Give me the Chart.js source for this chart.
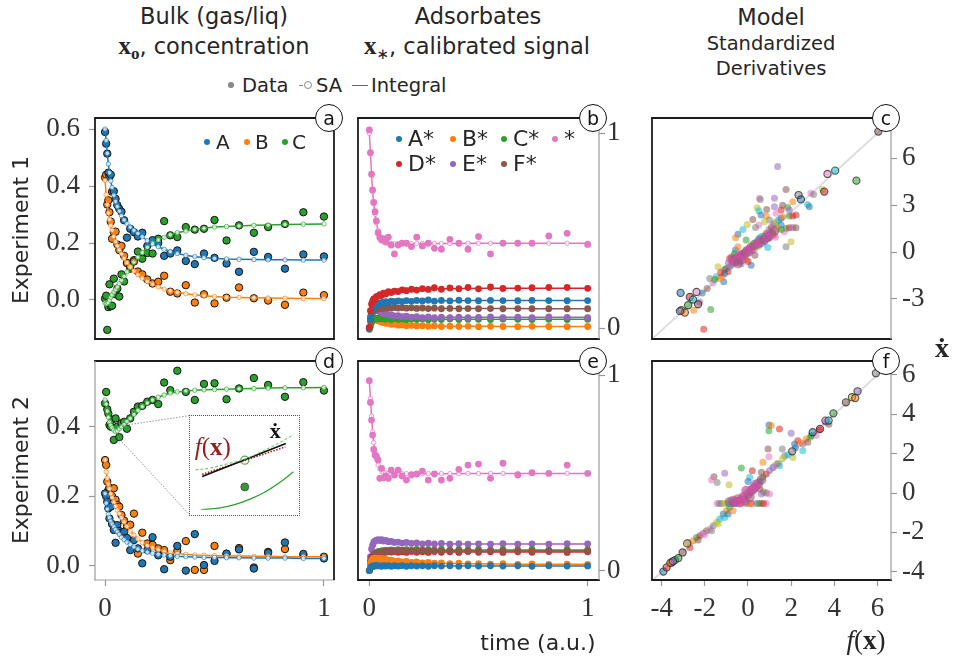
<!DOCTYPE html>
<html>
<head>
<meta charset="utf-8">
<script src="https://cdn.jsdelivr.net/npm/chart.js@4/dist/chart.umd.min.js"></script>
<style>
html, body { margin: 0; padding: 0; background: #fff; }
#fig { position: relative; width: 953px; height: 663px; overflow: hidden; font-family: 'DejaVu Sans', sans-serif; color: #262626; }
.pane { position: absolute; }
.txt { position: absolute; white-space: nowrap; line-height: 1; }
.mathx { font-family: 'Liberation Serif', serif; font-weight: bold; }
.sub { position: relative; font-size: 17px; top: 5px; }
.tag { position: absolute; width: 28px; height: 28px; margin: -14px 0 0 -14px; border: 1.3px solid #111; border-radius: 50%; background: #fff; box-sizing: border-box; font: 19px 'DejaVu Sans', sans-serif; color: #111; display: flex; align-items: center; justify-content: center; line-height: 1; }
.dot { position: absolute; border-radius: 50%; }
</style>
</head>
<body>
<div id="fig"></div>
<script>
// ---- sampling times shared by both experiments (a.u.) ----
const T = [0, 0.005, 0.01, 0.015, 0.02, 0.026, 0.032, 0.04, 0.048, 0.056, 0.065, 0.075, 0.087, 0.1, 0.115, 0.132, 0.15, 0.17, 0.193, 0.217, 0.243, 0.27, 0.298, 0.33, 0.369, 0.41, 0.452, 0.5, 0.555, 0.612, 0.68, 0.745, 0.822, 0.906, 1.0];

// ---- Experiment 1, bulk concentrations ----
const bulkA1 = [0.590, 0.549, 0.514, 0.447, 0.433, 0.440, 0.380, 0.382, 0.355, 0.333, 0.320, 0.310, 0.280, 0.219, 0.250, 0.238, 0.223, 0.236, 0.190, 0.210, 0.200, 0.155, 0.163, 0.174, 0.137, 0.126, 0.163, 0.148, 0.128, 0.099, 0.169, 0.151, 0.110, 0.160, 0.153];
const bulkB1 = [0.430, 0.440, 0.335, 0.350, 0.308, 0.275, 0.215, 0.238, 0.240, 0.195, 0.175, 0.190, 0.155, 0.130, 0.118, 0.135, 0.100, 0.090, 0.072, 0.058, 0.064, 0.085, 0.029, 0.023, 0.052, -0.009, 0.020, -0.012, 0.008, 0.044, 0.006, -0.002, -0.017, 0.026, 0.017];
const bulkC1 = [0.005, 0.015, -0.105, -0.025, 0.055, -0.022, -0.020, 0.075, 0.020, 0.040, 0.012, 0.090, 0.065, 0.130, 0.110, 0.140, 0.170, 0.145, 0.165, 0.163, 0.215, 0.277, 0.227, 0.221, 0.256, 0.247, 0.250, 0.281, 0.209, 0.262, 0.236, 0.256, 0.267, 0.308, 0.293];
const fitA1 = [0.600, 0.560, 0.515, 0.478, 0.447, 0.418, 0.395, 0.368, 0.346, 0.328, 0.312, 0.296, 0.281, 0.268, 0.256, 0.245, 0.234, 0.222, 0.208, 0.197, 0.187, 0.178, 0.170, 0.163, 0.157, 0.152, 0.149, 0.146, 0.144, 0.143, 0.142, 0.141, 0.141, 0.140, 0.140];
const fitB1 = [0.420, 0.370, 0.335, 0.305, 0.283, 0.262, 0.245, 0.223, 0.205, 0.190, 0.176, 0.162, 0.146, 0.131, 0.116, 0.102, 0.089, 0.077, 0.065, 0.056, 0.046, 0.038, 0.032, 0.027, 0.022, 0.018, 0.015, 0.012, 0.010, 0.009, 0.008, 0.007, 0.006, 0.005, 0.005];
const fitC1 = [-0.010, -0.013, -0.012, -0.008, 0.000, 0.010, 0.018, 0.028, 0.037, 0.046, 0.057, 0.069, 0.083, 0.099, 0.115, 0.133, 0.150, 0.167, 0.185, 0.200, 0.211, 0.220, 0.229, 0.236, 0.242, 0.248, 0.252, 0.256, 0.258, 0.260, 0.262, 0.263, 0.265, 0.266, 0.267];

// ---- Experiment 2, bulk concentrations ----
const bulkA2 = [0.208, 0.200, 0.184, 0.165, 0.136, 0.170, 0.120, 0.103, 0.066, 0.117, 0.100, 0.095, 0.098, 0.080, 0.045, 0.074, 0.050, 0.007, 0.045, 0.082, 0.030, -0.010, 0.026, 0.057, -0.014, 0.091, 0.002, 0.014, 0.035, 0.047, -0.008, 0.037, 0.067, 0.034, 0.021];
const bulkB2 = [0.304, 0.290, 0.242, 0.218, 0.225, 0.199, 0.200, 0.223, 0.190, 0.175, 0.170, 0.146, 0.130, 0.112, 0.118, 0.150, 0.035, 0.095, 0.064, 0.060, 0.050, 0.045, 0.016, 0.043, 0.071, -0.012, -0.012, 0.057, 0.034, 0.051, -0.005, 0.040, 0.048, 0.031, 0.026];
const bulkC2 = [0.467, 0.500, 0.450, 0.438, 0.405, 0.400, 0.420, 0.362, 0.424, 0.400, 0.370, 0.410, 0.414, 0.394, 0.424, 0.443, 0.458, 0.460, 0.472, 0.477, 0.465, 0.527, 0.505, 0.561, 0.500, 0.477, 0.523, 0.525, 0.479, 0.510, 0.540, 0.520, 0.486, 0.528, 0.504];
const fitA2 = [0.208, 0.180, 0.163, 0.148, 0.138, 0.128, 0.120, 0.112, 0.104, 0.097, 0.090, 0.082, 0.075, 0.068, 0.061, 0.054, 0.048, 0.043, 0.039, 0.036, 0.033, 0.031, 0.029, 0.027, 0.026, 0.025, 0.024, 0.024, 0.023, 0.023, 0.022, 0.022, 0.022, 0.021, 0.021];
const fitB2 = [0.304, 0.270, 0.252, 0.235, 0.222, 0.207, 0.196, 0.183, 0.171, 0.160, 0.150, 0.138, 0.126, 0.113, 0.100, 0.088, 0.077, 0.067, 0.058, 0.052, 0.046, 0.041, 0.037, 0.035, 0.033, 0.031, 0.030, 0.029, 0.028, 0.028, 0.027, 0.027, 0.026, 0.026, 0.026];
const fitC2 = [0.477, 0.465, 0.445, 0.427, 0.413, 0.404, 0.397, 0.390, 0.386, 0.388, 0.394, 0.400, 0.406, 0.415, 0.424, 0.435, 0.447, 0.458, 0.468, 0.477, 0.485, 0.491, 0.497, 0.500, 0.503, 0.505, 0.506, 0.507, 0.508, 0.509, 0.510, 0.511, 0.512, 0.512, 0.513];

// ---- Experiment 1, adsorbate signals (A*, B*, C*, *, D*, E*, F*) ----
const adsA1 = [0.000, 0.050, 0.085, 0.100, 0.110, 0.112, 0.122, 0.127, 0.125, 0.133, 0.130, 0.136, 0.133, 0.139, 0.136, 0.140, 0.137, 0.142, 0.138, 0.143, 0.140, 0.145, 0.139, 0.143, 0.140, 0.144, 0.142, 0.141, 0.143, 0.142, 0.141, 0.143, 0.142, 0.141, 0.142];
const adsB1 = [0.000, 0.035, 0.050, 0.055, 0.052, 0.046, 0.046, 0.038, 0.036, 0.032, 0.030, 0.026, 0.026, 0.020, 0.021, 0.016, 0.017, 0.013, 0.015, 0.012, 0.013, 0.010, 0.012, 0.009, 0.011, 0.009, 0.010, 0.008, 0.010, 0.009, 0.008, 0.010, 0.009, 0.008, 0.009];
const adsC1 = [-0.005, 0.010, 0.030, 0.040, 0.045, 0.050, 0.047, 0.053, 0.050, 0.048, 0.052, 0.047, 0.050, 0.045, 0.049, 0.046, 0.048, 0.044, 0.047, 0.045, 0.048, 0.044, 0.046, 0.045, 0.047, 0.045, 0.046, 0.046, 0.045, 0.047, 0.046, 0.045, 0.046, 0.045, 0.046];
const adsS1 = [1.017, 0.900, 0.790, 0.709, 0.645, 0.598, 0.550, 0.490, 0.465, 0.453, 0.460, 0.444, 0.467, 0.427, 0.381, 0.427, 0.436, 0.436, 0.419, 0.467, 0.422, 0.436, 0.410, 0.405, 0.456, 0.436, 0.405, 0.470, 0.381, 0.436, 0.436, 0.436, 0.473, 0.487, 0.430];
const adsD1 = [0.005, 0.090, 0.125, 0.140, 0.150, 0.148, 0.162, 0.165, 0.172, 0.168, 0.180, 0.176, 0.188, 0.183, 0.190, 0.188, 0.197, 0.193, 0.200, 0.196, 0.203, 0.199, 0.208, 0.200, 0.207, 0.203, 0.210, 0.202, 0.212, 0.204, 0.206, 0.208, 0.210, 0.210, 0.205];
const adsE1 = [0.000, 0.060, 0.090, 0.100, 0.098, 0.100, 0.093, 0.090, 0.085, 0.082, 0.076, 0.075, 0.070, 0.068, 0.063, 0.065, 0.060, 0.062, 0.057, 0.060, 0.055, 0.058, 0.054, 0.057, 0.055, 0.057, 0.055, 0.056, 0.058, 0.055, 0.057, 0.055, 0.058, 0.056, 0.055];
const adsF1 = [0.000, 0.040, 0.070, 0.080, 0.090, 0.094, 0.098, 0.100, 0.104, 0.101, 0.106, 0.103, 0.106, 0.104, 0.107, 0.104, 0.106, 0.103, 0.105, 0.102, 0.104, 0.101, 0.103, 0.100, 0.102, 0.100, 0.101, 0.100, 0.101, 0.100, 0.101, 0.100, 0.100, 0.100, 0.100];
const adsFitA1 = [0.000, 0.040, 0.075, 0.095, 0.107, 0.115, 0.120, 0.125, 0.128, 0.130, 0.132, 0.134, 0.135, 0.136, 0.137, 0.138, 0.138, 0.139, 0.139, 0.140, 0.140, 0.140, 0.141, 0.141, 0.141, 0.141, 0.142, 0.142, 0.142, 0.142, 0.142, 0.142, 0.142, 0.142, 0.142];
const adsFitB1 = [0.000, 0.030, 0.045, 0.050, 0.050, 0.048, 0.045, 0.041, 0.037, 0.034, 0.031, 0.028, 0.025, 0.022, 0.020, 0.018, 0.016, 0.015, 0.014, 0.013, 0.012, 0.012, 0.011, 0.011, 0.010, 0.010, 0.010, 0.010, 0.010, 0.009, 0.009, 0.009, 0.009, 0.009, 0.009];
const adsFitC1 = [0.000, 0.015, 0.028, 0.036, 0.042, 0.046, 0.048, 0.050, 0.050, 0.050, 0.050, 0.049, 0.049, 0.048, 0.048, 0.047, 0.047, 0.047, 0.046, 0.046, 0.046, 0.046, 0.046, 0.046, 0.046, 0.046, 0.046, 0.046, 0.046, 0.046, 0.046, 0.046, 0.046, 0.046, 0.046];
const adsFitS1 = [1.000, 0.900, 0.790, 0.700, 0.640, 0.585, 0.540, 0.500, 0.470, 0.452, 0.442, 0.437, 0.434, 0.433, 0.433, 0.433, 0.434, 0.434, 0.434, 0.435, 0.435, 0.435, 0.435, 0.435, 0.435, 0.435, 0.436, 0.436, 0.436, 0.436, 0.436, 0.436, 0.436, 0.436, 0.436];
const adsFitD1 = [0.000, 0.070, 0.110, 0.130, 0.142, 0.150, 0.156, 0.162, 0.167, 0.171, 0.175, 0.179, 0.183, 0.186, 0.189, 0.192, 0.194, 0.196, 0.198, 0.199, 0.200, 0.201, 0.202, 0.203, 0.203, 0.204, 0.204, 0.205, 0.205, 0.205, 0.205, 0.205, 0.205, 0.205, 0.205];
const adsFitE1 = [0.000, 0.050, 0.080, 0.092, 0.095, 0.094, 0.090, 0.086, 0.082, 0.078, 0.075, 0.072, 0.069, 0.066, 0.064, 0.062, 0.060, 0.059, 0.058, 0.057, 0.057, 0.057, 0.056, 0.056, 0.056, 0.056, 0.056, 0.056, 0.056, 0.056, 0.056, 0.056, 0.056, 0.056, 0.056];
const adsFitF1 = [0.000, 0.035, 0.060, 0.075, 0.085, 0.090, 0.094, 0.097, 0.099, 0.100, 0.101, 0.102, 0.102, 0.103, 0.103, 0.103, 0.103, 0.103, 0.103, 0.103, 0.102, 0.102, 0.102, 0.102, 0.101, 0.101, 0.101, 0.101, 0.101, 0.101, 0.101, 0.100, 0.100, 0.100, 0.100];

// ---- Experiment 2, adsorbate signals ----
const adsA2 = [0.000, 0.015, 0.022, 0.020, 0.026, 0.023, 0.027, 0.024, 0.026, 0.022, 0.026, 0.023, 0.026, 0.022, 0.025, 0.023, 0.026, 0.022, 0.025, 0.023, 0.025, 0.022, 0.025, 0.023, 0.025, 0.022, 0.025, 0.023, 0.025, 0.023, 0.025, 0.022, 0.025, 0.023, 0.024];
const adsB2 = [0.000, 0.037, 0.050, 0.058, 0.063, 0.064, 0.060, 0.063, 0.058, 0.062, 0.056, 0.058, 0.052, 0.054, 0.048, 0.050, 0.045, 0.047, 0.042, 0.044, 0.040, 0.042, 0.038, 0.040, 0.036, 0.038, 0.034, 0.036, 0.033, 0.035, 0.032, 0.034, 0.032, 0.033, 0.032];
const adsC2 = [0.000, 0.035, 0.055, 0.070, 0.078, 0.088, 0.090, 0.097, 0.098, 0.101, 0.102, 0.104, 0.103, 0.106, 0.104, 0.107, 0.105, 0.107, 0.104, 0.108, 0.105, 0.107, 0.105, 0.108, 0.105, 0.107, 0.106, 0.108, 0.105, 0.107, 0.106, 0.108, 0.105, 0.107, 0.106];
const adsS2 = [0.971, 0.860, 0.770, 0.693, 0.620, 0.591, 0.586, 0.566, 0.472, 0.523, 0.475, 0.484, 0.472, 0.514, 0.489, 0.514, 0.484, 0.463, 0.489, 0.494, 0.509, 0.463, 0.494, 0.463, 0.472, 0.518, 0.540, 0.545, 0.472, 0.549, 0.489, 0.501, 0.497, 0.540, 0.497];
const adsD2 = [0.000, 0.050, 0.065, 0.075, 0.080, 0.084, 0.088, 0.090, 0.093, 0.092, 0.095, 0.094, 0.097, 0.095, 0.098, 0.094, 0.097, 0.093, 0.098, 0.094, 0.097, 0.093, 0.098, 0.094, 0.096, 0.093, 0.098, 0.094, 0.097, 0.093, 0.096, 0.094, 0.098, 0.093, 0.096];
const adsE2 = [0.000, 0.070, 0.110, 0.130, 0.145, 0.152, 0.155, 0.158, 0.154, 0.158, 0.151, 0.154, 0.148, 0.150, 0.144, 0.146, 0.141, 0.144, 0.139, 0.142, 0.137, 0.140, 0.136, 0.139, 0.135, 0.138, 0.135, 0.137, 0.135, 0.138, 0.135, 0.137, 0.135, 0.138, 0.136];
const adsF2 = [0.000, 0.040, 0.060, 0.070, 0.078, 0.083, 0.088, 0.090, 0.094, 0.095, 0.098, 0.097, 0.100, 0.099, 0.101, 0.100, 0.102, 0.099, 0.101, 0.100, 0.102, 0.099, 0.101, 0.100, 0.101, 0.099, 0.101, 0.100, 0.101, 0.099, 0.101, 0.100, 0.101, 0.099, 0.100];
const adsFitA2 = [0.000, 0.012, 0.018, 0.021, 0.023, 0.024, 0.025, 0.025, 0.025, 0.025, 0.025, 0.025, 0.025, 0.024, 0.024, 0.024, 0.024, 0.024, 0.024, 0.024, 0.024, 0.024, 0.024, 0.024, 0.024, 0.024, 0.024, 0.024, 0.024, 0.024, 0.024, 0.024, 0.024, 0.024, 0.024];
const adsFitB2 = [0.000, 0.030, 0.045, 0.053, 0.058, 0.061, 0.062, 0.062, 0.061, 0.060, 0.058, 0.056, 0.054, 0.052, 0.050, 0.048, 0.046, 0.045, 0.043, 0.042, 0.041, 0.040, 0.039, 0.038, 0.037, 0.036, 0.035, 0.035, 0.034, 0.034, 0.033, 0.033, 0.033, 0.032, 0.032];
const adsFitC2 = [0.000, 0.030, 0.050, 0.065, 0.075, 0.083, 0.088, 0.093, 0.096, 0.098, 0.100, 0.101, 0.102, 0.103, 0.104, 0.104, 0.105, 0.105, 0.105, 0.106, 0.106, 0.106, 0.106, 0.106, 0.106, 0.106, 0.106, 0.106, 0.106, 0.106, 0.106, 0.106, 0.106, 0.106, 0.106];
const adsFitS2 = [0.970, 0.880, 0.790, 0.710, 0.655, 0.605, 0.570, 0.540, 0.520, 0.508, 0.502, 0.499, 0.497, 0.496, 0.496, 0.496, 0.496, 0.496, 0.496, 0.496, 0.496, 0.496, 0.496, 0.496, 0.496, 0.496, 0.497, 0.497, 0.497, 0.497, 0.497, 0.497, 0.497, 0.497, 0.497];
const adsFitD2 = [0.000, 0.040, 0.060, 0.070, 0.076, 0.081, 0.084, 0.087, 0.089, 0.090, 0.091, 0.092, 0.093, 0.093, 0.094, 0.094, 0.094, 0.095, 0.095, 0.095, 0.095, 0.095, 0.095, 0.095, 0.095, 0.095, 0.095, 0.095, 0.095, 0.095, 0.095, 0.095, 0.095, 0.095, 0.095];
const adsFitE2 = [0.000, 0.060, 0.100, 0.125, 0.140, 0.148, 0.152, 0.155, 0.156, 0.155, 0.153, 0.151, 0.149, 0.147, 0.145, 0.143, 0.142, 0.141, 0.140, 0.139, 0.138, 0.138, 0.137, 0.137, 0.137, 0.136, 0.136, 0.136, 0.136, 0.136, 0.136, 0.136, 0.136, 0.136, 0.136];
const adsFitF2 = [0.000, 0.035, 0.055, 0.067, 0.075, 0.081, 0.085, 0.089, 0.092, 0.094, 0.096, 0.097, 0.098, 0.099, 0.100, 0.100, 0.100, 0.100, 0.100, 0.100, 0.100, 0.100, 0.100, 0.100, 0.100, 0.100, 0.100, 0.100, 0.100, 0.100, 0.100, 0.100, 0.100, 0.100, 0.100];

// ---- standardized derivatives: model f(x) vs estimated x-dot, Experiment 1 ----
const der1X = [-2.62, -3.12, -2.13, -2.54, -2.77, -2.34, -2.0, -2.19, -1.7, -1.8, -1.37, -1.45, -1.22, -1.12, -1.03, -1.32, -0.83, -0.93, -0.64, -0.45, -0.68, -0.54, -0.74, -0.35, -0.15, -0.06, 0.14, 0.23, 0.37, 0.52, 0.68, 0.81, 0.95, 1.11, 1.26, 1.4, 1.49, 1.59, 1.69, 1.84, 1.98, 2.07, 2.27, 2.46, 2.66, 2.85, 2.17, 2.27, 2.56, 1.2, 0.23, -0.06, -0.45, -1.03, 1.78, 2.27, 3.72, 3.88, 4.4, 3.53, 3.63, 2.66, 2.37, 1.98, 1.59, 1.14, 0.72, 0.76, 0.58, 0.68, 0.81, 1.11, 2.46, 2.85, 1.59, 0.33, 0.68, 0.49, 0.0, -0.25, -0.54, -0.68, -0.06, 2.66, 2.46, 2.07, 1.69, 1.3, 1.01, 0.81, 1.98, 1.78, 1.49, 1.3, 1.01, 0.72, 0.43, 0.14, -0.25, -0.64, -1.32, -1.61, -1.9, -1.55, -1.1, -0.9, -0.5, 0.3, 0.6, 0.9, 1.2, 1.6, 2.0, 0.05, -0.35, 0.45, 1.65];
const der1Y = [-2.61, -3.72, -3.68, -4.94, -3.19, -2.33, -1.97, -1.69, -0.94, -1.58, -1.9, -1.54, -1.05, -1.26, -0.94, -1.11, -0.62, -0.84, -0.41, -0.3, 0.13, 0.34, -0.09, -0.09, 0.02, 0.13, 0.23, 0.34, 0.55, 0.66, 0.87, 0.77, 1.02, 1.19, 1.41, 1.58, 1.73, 1.83, 1.94, 2.05, 2.16, 2.26, 1.51, 1.56, 1.58, 1.56, 1.3, 0.34, 0.66, 0.3, -0.84, -0.47, -0.62, -0.41, 5.47, 4.01, 3.76, 3.69, 4.01, 3.05, 2.9, 3.22, 2.86, 2.69, 3.44, 2.73, 3.44, 3.37, 2.84, 2.65, 2.37, 2.31, 2.31, 2.37, 2.9, 2.09, 1.73, 1.58, 1.77, 1.45, 1.15, 0.92, 0.77, 2.31, 2.69, 3.0, 2.48, 2.05, 1.94, 0.98, 1.73, 1.51, 1.19, 0.92, 0.66, 0.45, 0.17, -0.05, -0.3, -0.62, -1.37, -1.69, -1.75, -1.3, -0.7, -0.3, -0.15, 0.1, 0.35, 0.55, 0.85, 1.1, 1.45, -0.6, -0.75, -0.2, 0.95];
const der1DenseX = [-0.83, -0.64, -0.45, -0.25, -0.1, 0.04, 0.23, 0.43, 0.62, 0.81, 1.01, 1.2, 1.4, 1.59, -0.74, -0.35, -0.54];
const der1DenseY = [-0.52, -0.41, -0.3, -0.19, -0.09, 0.08, 0.3, 0.45, 0.55, 0.72, 0.81, 0.98, 1.15, 1.36, -0.62, -0.47, -0.73];
const der1TailX = [-3.89, -3.35, -2.96, -3.16, -3.45, -2.87, -3.84, -3.64, -3.93, 3.0, 3.14, 4.5, 4.69, 5.14, 6.38, 7.66];
const der1TailY = [-2.61, -2.87, -2.55, -3.04, -3.4, -3.34, -3.72, -3.87, -3.78, 3.65, 3.37, 3.87, 5.0, 5.21, 4.57, 7.71];

// ---- standardized derivatives, Experiment 2 ----
const der2X = [0.97, 1.08, 0.97, 1.46, 2.0, 0.93, 0.97, 1.59, 2.08, 2.54, 2.16, 0.69, -0.31, 0.2, -1.08, -1.58, -1.69, -1.43, -0.88, 0.08, 0.0, 2.7, 2.93, 2.31, 2.54, 2.77, 3.16, 1.7, 1.31, 1.46, 1.16, -2.54, -2.39, -2.23, -2.08, -1.92, -1.77, -1.61, -1.46, -1.31, -1.15, -1.0, -0.85, -2.69, -2.77, -2.31, -2.0, -1.69, -1.38, -1.08, -0.92, -0.69, 0.69, 0.85, 1.0, 0.62, 1.2, 1.4, 1.6, 1.85, 2.2, 2.45, 2.9, 3.3, 3.6, 3.75, -1.43, -1.23, -1.0, -0.77, -0.54, -0.31, -0.08, 0.16, 0.39, 0.62, 0.85, -1.33, -1.1, -0.9, -0.65, 0.05, 0.5, 0.72, 0.62, 0.85, 1.0, 0.72, 0.3, 0.45, 0.55, -0.2, 0.1, -0.4, 0.3, 0.55];
const der2Y = [3.46, 3.43, 3.17, 3.26, 3.04, 2.24, 1.85, 2.24, 1.81, 2.15, 2.49, 1.56, 1.27, 1.13, 1.0, 0.83, 0.66, 0.54, 0.42, 0.8, 0.58, 2.75, 2.92, 2.66, 2.49, 2.58, 2.92, 1.9, 1.47, 1.39, 1.3, -2.43, -2.26, -2.17, -2.05, -1.92, -1.83, -1.66, -1.49, -1.32, -1.07, -0.9, -0.73, -2.77, -2.51, -2.39, -2.12, -1.92, -1.58, -1.24, -1.07, -0.9, 0.8, 0.97, 1.14, 1.05, 1.35, 1.5, 1.75, 1.95, 2.3, 2.55, 2.85, 3.2, 3.6, 3.5, -0.53, -0.53, -0.53, -0.53, -0.53, -0.53, -0.53, -0.53, -0.53, -0.53, -0.53, -0.53, -0.53, -0.53, -0.53, -0.53, -0.53, -0.53, -0.05, 0.0, -0.05, 0.05, 0.2, 0.35, 0.6, -0.2, 0.05, -0.35, 0.5, 0.2];
const der2DenseX = [-0.69, -0.46, -0.23, 0.0, 0.16, 0.31, 0.46, 0.62, -0.38, -0.15, 0.08, 0.23, -0.08, -0.85, -0.55];
const der2DenseY = [-0.39, -0.31, -0.22, -0.05, 0.12, 0.29, 0.46, 0.66, -0.48, -0.39, -0.22, 0.2, 0.12, -0.45, -0.45];
const der2TailX = [-3.92, -3.77, -3.54, -3.39, -3.23, -3.03, -2.82, -3.6, -3.48, 2.05, 3.0, 3.34, 3.59, 3.74, 3.96, 4.54, 4.82, 4.97, 5.08, 5.93];
const der2TailY = [-3.99, -3.78, -3.53, -3.41, -3.31, -3.02, -2.56, -3.55, -3.47, 2.12, 3.09, 3.26, 3.68, 3.68, 4.05, 4.61, 4.87, 4.83, 5.17, 6.09];
const identity = [-10, 10];

// ---- zoomed inset of panel d (local 0..1 coordinates) ----
const insetBoxT = [0.387, 0.887];
const insetBoxV = [0.146, 0.432];
const zoomFromT = [0.067, 0.059];
const zoomFromV = [0.402, 0.369];
const insetSplineU = [0.0, 0.15, 0.33, 0.5, 0.67, 0.85, 1.0];
const insetSplineV = [0.45, 0.47, 0.52, 0.57, 0.655, 0.755, 0.85];
const insetIntegralU = [0.06, 0.24, 0.4, 0.55, 0.7, 0.85, 1.0];
const insetIntegralV = [0.0, 0.017, 0.057, 0.117, 0.195, 0.302, 0.43];
const insetSlopeU = [0.07, 0.92];
const insetSlopeV = [0.375, 0.75];
const insetModelU = [0.07, 0.915];
const insetModelV = [0.40, 0.71];
const insetSAU = [0.503], insetSAV = [0.56];
const insetDataU = [0.503], insetDataV = [0.258];

// ---- tick values ----
const ticksBulk1 = [0, 0.2, 0.4, 0.6];
const ticksBulk2 = [0, 0.2, 0.4];
const ticksAds = [0, 1];
const ticksTime = [0, 1];
const ticksDer1 = [-3, 0, 3, 6];
const ticksDer2 = [-4, -2, 0, 2, 4, 6];

const COL = { A: '#1f77b4', B: '#ff7f0e', C: '#2ca02c', D: '#d62728', E: '#9467bd', F: '#8c564b', S: '#e377c2' };
const PAL = ['#1f77b4', '#ff7f0e', '#2ca02c', '#d62728', '#9467bd', '#8c564b', '#e377c2', '#7f7f7f', '#bcbd22', '#17becf'];

function pts(xs, ys) { return xs.map((x, i) => ({ x: x, y: ys[i] })); }
function rgba(hex, a) {
  const n = parseInt(hex.slice(1), 16);
  return 'rgba(' + ((n >> 16) & 255) + ',' + ((n >> 8) & 255) + ',' + (n & 255) + ',' + a + ')';
}

const fig = document.getElementById('fig');

function addCanvas(x, y, w, h, z) {
  const d = document.createElement('div');
  d.className = 'pane';
  d.style.left = x + 'px'; d.style.top = y + 'px';
  d.style.width = w + 'px'; d.style.height = h + 'px';
  if (z) d.style.zIndex = z;
  const c = document.createElement('canvas');
  c.width = w; c.height = h;
  c.style.width = w + 'px'; c.style.height = h + 'px';
  d.appendChild(c);
  fig.appendChild(d);
  return c;
}

// frame: black box with grey spines where an axis carries ticks
const framePlugin = {
  id: 'frame',
  afterDraw(chart, args, o) {
    const a = chart.chartArea, ctx = chart.ctx;
    const seg = (kind, x1, y1, x2, y2) => {
      ctx.save();
      ctx.strokeStyle = kind === 'g' ? '#9c9c9c' : '#1c1c1c';
      ctx.lineWidth = kind === 'g' ? 1.2 : 1.8;
      ctx.beginPath(); ctx.moveTo(x1, y1); ctx.lineTo(x2, y2); ctx.stroke();
      ctx.restore();
    };
    seg(o.top || 'k', a.left - 0.9, a.top, a.right + 0.9, a.top);
    seg(o.bottom || 'k', a.left - 0.9, a.bottom, a.right + 0.9, a.bottom);
    seg(o.left || 'k', a.left, a.top, a.left, a.bottom);
    seg(o.right || 'k', a.right, a.top, a.right, a.bottom);
  }
};

function hiddenAxis(min, max) { return { type: 'linear', display: false, min: min, max: max }; }
function tickAxis(pos, min, max, ticks, size, pad, fmt) {
  const vertical = pos === 'left' || pos === 'right';
  return {
    type: 'linear', position: pos, min: min, max: max,
    afterBuildTicks: s => { s.ticks = ticks.map(v => ({ value: v })); },
    afterFit: s => {
      if (vertical) s.width = size; else s.height = size;
      s.paddingTop = 0; s.paddingBottom = 0; s.paddingLeft = 0; s.paddingRight = 0;
    },
    ticks: {
      font: { family: "'Liberation Serif', serif", size: 27 }, color: '#333',
      padding: pad, autoSkip: false, maxRotation: 0, minRotation: 0,
      callback: v => fmt ? fmt(v) : String(v)
    },
    grid: { drawOnChartArea: false, drawTicks: true, tickLength: 6, tickWidth: 1.2, tickColor: '#999', color: '#999' },
    border: { display: false }
  };
}

function mkChart(canvas, datasets, scales, padding, frame, extra) {
  return new Chart(canvas, {
    type: 'scatter',
    data: { datasets: datasets },
    options: {
      responsive: false, animation: false, devicePixelRatio: 1, events: [],
      layout: { padding: padding },
      scales: scales,
      plugins: { legend: { display: false }, tooltip: { enabled: false }, frame: frame || {} }
    },
    plugins: [framePlugin].concat(extra || [])
  });
}

function measured(ys, color, edged, r, order) {
  return {
    data: pts(T, ys), showLine: false, order: order === undefined ? 2 : order,
    pointRadius: r || 3.7, pointBackgroundColor: color,
    pointBorderColor: edged ? '#151515' : color, pointBorderWidth: edged ? 1 : 0
  };
}
function fitted(ys, color, order) {
  return {
    data: pts(T, ys), showLine: true, order: order === undefined ? 1 : order,
    borderColor: color, borderWidth: 1.5, tension: 0,
    pointRadius: 2.2, pointBorderWidth: 1,
    pointBorderColor: rgba(color, 0.7), pointBackgroundColor: 'rgba(255,255,255,0.75)'
  };
}

// ---- (a) Experiment 1, bulk ----
mkChart(addCanvas(0, 108, 350, 241), [
  measured(bulkA1, COL.A, true), measured(bulkB1, COL.B, true), measured(bulkC1, COL.C, true),
  fitted(fitA1, COL.A), fitted(fitB1, COL.B), fitted(fitC1, COL.C)
], {
  x: hiddenAxis(-0.046, 1.046),
  y: tickAxis('left', -0.137, 0.639, ticksBulk1, 95, 9, v => v.toFixed(1))
}, { left: 0, right: 16, top: 10, bottom: 10 }, {});

// adsorbate panels: measured dots drawn above their fitted curves
function adsSets(list) {
  const out = [];
  list.forEach((s, i) => {
    out.push(measured(s[0], s[2], false, 3.4, 20 - 2 * i));
    out.push(fitted(s[1], s[2], 40 - 2 * i));
  });
  return out;
}

// ---- (b) Experiment 1, adsorbates ----
mkChart(addCanvas(348, 108, 296, 241), adsSets([
  [adsS1, adsFitS1, COL.S], [adsB1, adsFitB1, COL.B], [adsC1, adsFitC1, COL.C], [adsE1, adsFitE1, COL.E],
  [adsF1, adsFitF1, COL.F], [adsA1, adsFitA1, COL.A], [adsD1, adsFitD1, COL.D]
]), {
  x: hiddenAxis(-0.052, 1.052),
  y: tickAxis('right', -0.055, 1.078, ticksAds, 45, 2)
}, { left: 10, right: 0, top: 10, bottom: 10 }, { right: 'g' });

// scatter datasets for the derivative panels
function derivSets(xs, ys, dx, dy, tx, ty) {
  return [
    { data: pts(identity, identity), showLine: true, borderColor: '#dedede', borderWidth: 2, pointRadius: 0, order: 5 },
    { data: pts(xs, ys), showLine: false, order: 4, pointRadius: 3.5, pointBorderWidth: 0,
      pointBackgroundColor: c => rgba(PAL[c.dataIndex % 10], 0.55) },
    { data: pts(dx, dy), showLine: false, order: 3, pointRadius: 5, pointBorderWidth: 0,
      pointBackgroundColor: c => (c.dataIndex % 3 === 1 ? 'rgba(150,90,120,0.6)' : 'rgba(200,80,160,0.7)') },
    { data: pts(tx, ty), showLine: false, order: 2, pointRadius: 3.6, pointBorderWidth: 1.1,
      pointBorderColor: 'rgba(40,40,40,0.75)',
      pointBackgroundColor: c => rgba(PAL[(c.dataIndex * 3) % 10], 0.55) }
  ];
}

// ---- (c) Experiment 1, derivatives ----
mkChart(addCanvas(642, 108, 311, 241), derivSets(der1X, der1Y, der1DenseX, der1DenseY, der1TailX, der1TailY), {
  x: hiddenAxis(-5.56, 8.4),
  y: tickAxis('right', -5.56, 8.58, ticksDer1, 62, 5)
}, { left: 10, right: 0, top: 10, bottom: 10 }, { right: 'g' });

// ---- (d) Experiment 2, bulk, with zoom guides ----
const zoomGuides = {
  id: 'zoomGuides',
  afterDatasetsDraw(chart) {
    const xs = chart.scales.x, ys = chart.scales.y, ctx = chart.ctx;
    ctx.save();
    ctx.strokeStyle = '#8a8a8a'; ctx.lineWidth = 0.9; ctx.setLineDash([1.5, 1.5]);
    const corners = [[insetBoxT[0], insetBoxV[1]], [insetBoxT[0], insetBoxV[0]]];
    for (let i = 0; i < 2; i++) {
      ctx.beginPath();
      ctx.moveTo(xs.getPixelForValue(zoomFromT[i]), ys.getPixelForValue(zoomFromV[i]));
      ctx.lineTo(xs.getPixelForValue(corners[i][0]), ys.getPixelForValue(corners[i][1]));
      ctx.stroke();
    }
    ctx.restore();
  }
};
const dLeft = 0, dTop = 351;
const chD = mkChart(addCanvas(dLeft, dTop, 350, 274), [
  measured(bulkA2, COL.A, true), measured(bulkB2, COL.B, true), measured(bulkC2, COL.C, true),
  fitted(fitA2, COL.A), fitted(fitB2, COL.B), fitted(fitC2, COL.C)
], {
  x: tickAxis('bottom', -0.046, 1.046, ticksTime, 45, 7),
  y: tickAxis('left', -0.041, 0.589, ticksBulk2, 95, 9, v => v.toFixed(1))
}, { left: 0, right: 16, top: 10, bottom: 0 }, { left: 'g', bottom: 'g' }, [zoomGuides]);

// ---- (e) Experiment 2, adsorbates ----
mkChart(addCanvas(348, 351, 296, 274), adsSets([
  [adsS2, adsFitS2, COL.S], [adsE2, adsFitE2, COL.E], [adsC2, adsFitC2, COL.C], [adsD2, adsFitD2, COL.D],
  [adsF2, adsFitF2, COL.F], [adsB2, adsFitB2, COL.B], [adsA2, adsFitA2, COL.A]
]), {
  x: tickAxis('bottom', -0.052, 1.052, ticksTime, 45, 7),
  y: tickAxis('right', -0.048, 1.072, ticksAds, 45, 2)
}, { left: 10, right: 0, top: 10, bottom: 0 }, { right: 'g' });

// ---- (f) Experiment 2, derivatives ----
mkChart(addCanvas(642, 351, 311, 274), derivSets(der2X, der2Y, der2DenseX, der2DenseY, der2TailX, der2TailY), {
  x: tickAxis('bottom', -4.45, 6.63, ticksDer2, 45, 7),
  y: tickAxis('right', -4.42, 6.71, ticksDer2, 62, 5)
}, { left: 10, right: 0, top: 10, bottom: 0 }, { right: 'g' });

// ---- inset of panel d ----
const ix0 = dLeft + chD.scales.x.getPixelForValue(insetBoxT[0]);
const ix1 = dLeft + chD.scales.x.getPixelForValue(insetBoxT[1]);
const iy0 = dTop + chD.scales.y.getPixelForValue(insetBoxV[1]);
const iy1 = dTop + chD.scales.y.getPixelForValue(insetBoxV[0]);
const insetW = Math.round(ix1 - ix0), insetH = Math.round(iy1 - iy0);
const insetCanvas = addCanvas(Math.round(ix0), Math.round(iy0), insetW, insetH, 3);
insetCanvas.parentNode.style.background = '#fff';
insetCanvas.parentNode.style.outline = '1px dotted #555';
new Chart(insetCanvas, {
  type: 'scatter',
  data: { datasets: [
    { data: pts(insetSplineU, insetSplineV), showLine: true, borderColor: '#5cbf5c', borderWidth: 1, borderDash: [3, 2], pointRadius: 0, tension: 0.4 },
    { data: pts(insetSlopeU, insetSlopeV), showLine: true, borderColor: '#111', borderWidth: 1.6, pointRadius: 0 },
    { data: pts(insetModelU, insetModelV), showLine: true, borderColor: '#b01c1c', borderWidth: 1.6, borderDash: [1.5, 1.5], pointRadius: 0 },
    { data: pts(insetIntegralU, insetIntegralV), showLine: true, borderColor: COL.C, borderWidth: 1.3, pointRadius: 0, tension: 0.4 },
    { data: pts(insetSAU, insetSAV), showLine: false, pointRadius: 4, pointBorderWidth: 1.3, pointBorderColor: '#4cb04c', pointBackgroundColor: 'rgba(255,255,255,0)' },
    { data: pts(insetDataU, insetDataV), showLine: false, pointRadius: 4, pointBorderWidth: 0.8, pointBorderColor: '#2a5a2a', pointBackgroundColor: '#3f8f3f' }
  ] },
  options: {
    responsive: false, animation: false, devicePixelRatio: 1, events: [],
    layout: { padding: 0 },
    scales: { x: hiddenAxis(0, 1), y: hiddenAxis(0, 1) },
    plugins: { legend: { display: false }, tooltip: { enabled: false } }
  }
});

// ---- text ----
function txt(html, x, base, size, opt) {
  opt = opt || {};
  const d = document.createElement('div');
  d.className = 'txt';
  d.innerHTML = html;
  d.style.fontSize = size + 'px';
  if (opt.family) d.style.fontFamily = opt.family;
  if (opt.color) d.style.color = opt.color;
  d.style.top = (base - (opt.asc || 0.846) * size) + 'px';
  d.style.left = x + 'px';
  if (opt.align === 'center') d.style.transform = 'translateX(-50%)';
  d.style.zIndex = opt.z || 4;
  fig.appendChild(d);
  return d;
}
function dot(cx, cy, dia, fill, border) {
  const d = document.createElement('div');
  d.className = 'dot';
  d.style.left = (cx - dia / 2) + 'px'; d.style.top = (cy - dia / 2) + 'px';
  d.style.width = dia + 'px'; d.style.height = dia + 'px';
  d.style.boxSizing = 'border-box';
  if (border) d.style.border = border; else d.style.background = fill;
  d.style.zIndex = 4;
  fig.appendChild(d);
}
function rule(x, y, w, h, color) {
  const d = document.createElement('div');
  d.style.position = 'absolute';
  d.style.left = x + 'px'; d.style.top = y + 'px';
  d.style.width = w + 'px'; d.style.height = h + 'px';
  d.style.background = color; d.style.zIndex = 4;
  fig.appendChild(d);
}

// column headers
txt('Bulk (gas/liq)', 214, 24, 22.5, { align: 'center' });
txt('<span class="mathx" style="font-size:25px">x</span><span class="mathx sub">o</span>, concentration', 214, 52, 22.5, { align: 'center' });
txt('Adsorbates', 478, 24, 22.5, { align: 'center' });
txt('<span class="mathx" style="font-size:25px">x</span><span class="sub" style="font-family:\'DejaVu Sans\';font-size:15px">∗</span>, calibrated signal', 477, 52, 22.5, { align: 'center' });
txt('Model', 771, 25, 22.5, { align: 'center' });
txt('Standardized', 771, 50, 19.5, { align: 'center' });
txt('Derivatives', 771, 75, 19.5, { align: 'center' });

// marker key
dot(231, 85, 5.5, '#8a8a8a');
txt('Data', 242, 92, 19.5);
rule(299, 84.5, 4, 1.4, '#8a8a8a');
dot(308, 85, 8, null, '1.4px solid #8a8a8a');
txt('SA', 316, 92, 19.5);
rule(352, 84.5, 16, 1.6, '#6a6a6a');
txt('Integral', 371, 92, 19.5);

// row labels
function rowLabel(text, cx, cy) {
  const d = document.createElement('div');
  d.className = 'txt';
  d.textContent = text;
  d.style.fontSize = '22px';
  d.style.left = cx + 'px'; d.style.top = cy + 'px';
  d.style.transform = 'translate(-50%,-50%) rotate(-90deg)';
  fig.appendChild(d);
}
rowLabel('Experiment 1', 21, 230);
rowLabel('Experiment 2', 21, 470);

// axis labels
txt('time (a.u.)', 538, 651, 22, { align: 'center' });
txt('<i>f</i>(<b>x</b>)', 866, 650, 27, { align: 'center', family: "'Liberation Serif', serif", asc: 0.8375 });
txt('<b>x\u0307</b>', 942, 357, 28, { align: 'center', family: "'Liberation Serif', serif", asc: 0.8375 });

// legend of panel a
[[207, 'A', COL.A, 216], [247, 'B', COL.B, 255], [285, 'C', COL.C, 292]].forEach(e => {
  dot(e[0], 142, 6, e[2]);
  txt(e[1], e[3], 149, 20);
});
// legend of panel b
[[399, 139, 'A*', COL.A], [453, 139, 'B*', COL.B], [504, 139, 'C*', COL.C], [555, 139, '*', COL.S],
 [399, 164, 'D*', COL.D], [453, 164, 'E*', COL.E], [504, 164, 'F*', COL.F]].forEach(e => {
  dot(e[0], e[1], 6, e[3]);
  txt(e[2], e[0] + 9, e[1] + 8, 22);
});

// inset annotations
txt('<i>f</i>(<b>x</b>)', ix0 + 5, iy0 + 39, 25, { family: "'Liberation Serif', serif", color: '#9b1c1c', asc: 0.8375, z: 6 });
txt('<b>x\u0307</b>', ix0 + 80, iy0 + 23, 22, { family: "'Liberation Serif', serif", color: '#111', asc: 0.8375, z: 6 });

// panel tags
[['a', 329, 118], ['b', 593, 118], ['c', 886, 118], ['d', 329, 361], ['e', 593, 361], ['f', 886, 361]].forEach(p => {
  const d = document.createElement('div');
  d.className = 'tag';
  d.textContent = p[0];
  d.style.left = p[1] + 'px'; d.style.top = p[2] + 'px';
  d.style.zIndex = 5;
  fig.appendChild(d);
});
</script>
</body>
</html>
